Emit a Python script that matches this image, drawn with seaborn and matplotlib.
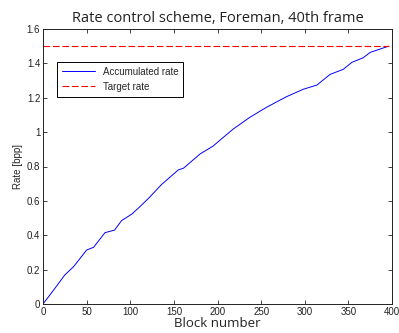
import matplotlib
matplotlib.use("Agg")
import matplotlib.pyplot as plt
import seaborn as sns
import pandas as pd

blocks = [0, 12, 25, 35, 50, 58, 71, 82, 90, 102, 111, 121, 136, 155, 161, 180,
          195, 203, 218, 237, 256, 279, 298, 314, 329, 344, 354, 367, 375, 396]
accum_rate = [0, 0.08, 0.169, 0.217, 0.314, 0.33, 0.415, 0.43, 0.485, 0.524, 0.566,
              0.615, 0.696, 0.78, 0.79, 0.873, 0.919, 0.954, 1.018, 1.086, 1.144,
              1.206, 1.249, 1.274, 1.336, 1.365, 1.406, 1.433, 1.464, 1.5]
target_x = [0, 396]
target_rate = [1.5, 1.5]
x_ticks = [0, 50, 100, 150, 200, 250, 300, 350, 400]
y_ticks = [0, 0.2, 0.4, 0.6, 0.8, 1.0, 1.2, 1.4, 1.6]
y_ticklabels = ["0", "0.2", "0.4", "0.6", "0.8", "1", "1.2", "1.4", "1.6"]

sns.set_style("ticks")
plt.rcParams['font.family'] = ['Liberation Sans', 'DejaVu Sans']

fig = plt.figure(figsize=(3.99, 3.33), dpi=100)
ax = fig.add_axes([0.1078, 0.0871, 0.8747, 0.8258])

df_acc = pd.DataFrame({"x": blocks, "y": accum_rate})
df_tgt = pd.DataFrame({"x": target_x, "y": target_rate})
sns.lineplot(data=df_acc, x="x", y="y", ax=ax, color="#0000ff", linewidth=0.7,
             label="Accumulated rate")
sns.lineplot(data=df_tgt, x="x", y="y", ax=ax, color="#ff0000", linewidth=0.8,
             linestyle=(0, (6, 2.5)), label="Target rate")

ax.set_xlim(0, 400)
ax.set_ylim(0, 1.6)
ax.set_xticks(x_ticks)
ax.set_yticks(y_ticks)
ax.set_yticklabels(y_ticklabels)
ax.tick_params(direction="in", length=3, width=0.6, labelsize=7, top=True, right=True,
               pad=2, colors="#222222")
for s in ax.spines.values():
    s.set_linewidth(0.7)
    s.set_color("#222222")
    s.set_visible(True)

ax.set_title("Rate control scheme, Foreman, 40th frame", fontsize=10.5,
             family=["Open Sans", "DejaVu Sans"], pad=5, color="#222222")
ax.set_xlabel("Block number", fontsize=9.5, family=["Open Sans", "DejaVu Sans"],
              labelpad=0, color="#222222")
ax.set_ylabel("Rate [bpp]", fontsize=7, labelpad=3)

leg = ax.legend(loc="upper left", bbox_to_anchor=(0.04, 0.88), fontsize=7,
                frameon=True, fancybox=False, edgecolor="black", framealpha=1,
                handlelength=3.4, borderaxespad=0, borderpad=0.5, labelspacing=0.5)
leg.get_frame().set_linewidth(0.7)

fig.savefig("out.png", dpi=100)
